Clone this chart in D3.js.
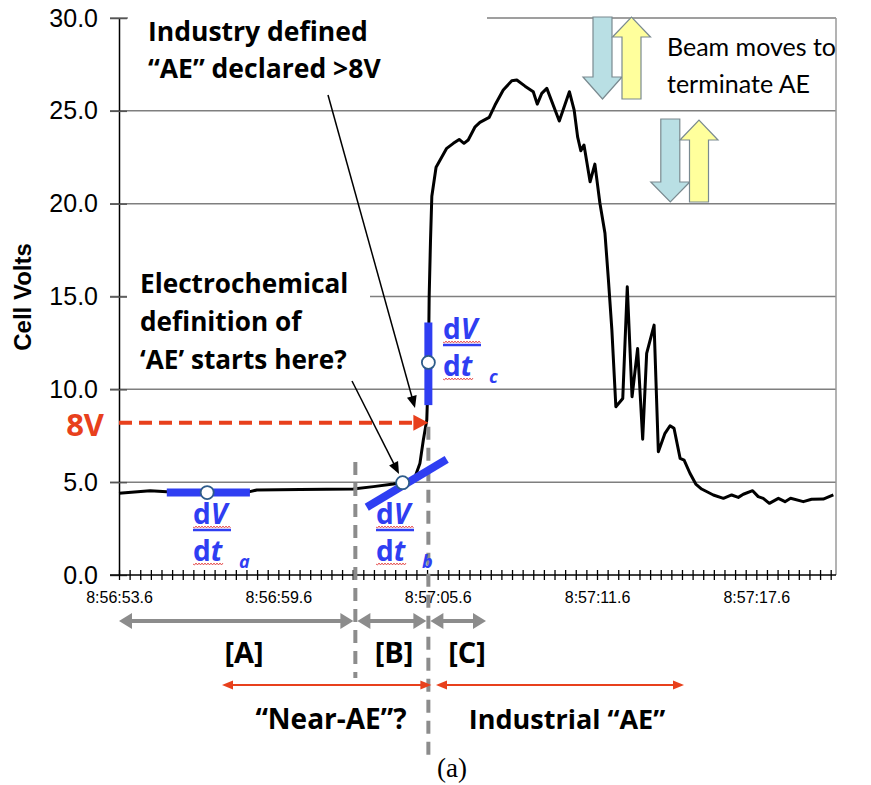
<!DOCTYPE html>
<html>
<head>
<meta charset="utf-8">
<script src="https://cdn.jsdelivr.net/npm/d3@7"></script>
<style>
  body { margin: 0; background: #fff; }
  svg { display: block; }
  .ann { font-family: "Open Sans", Lato, sans-serif; font-weight: 700; fill: #000; }
  .tick text { font-family: "Liberation Sans", Arial, sans-serif; }
</style>
</head>
<body>
<svg width="871" height="785"></svg>
<script>
(function() {
  'use strict';

// seconds after 8:56:53.6
var times = [0, 1.17, 1.80, 3.05, 4.93, 5.19, 6.82, 8.82, 9.58, 10.33, 10.83, 11.15, 11.33, 11.46, 11.59,
  11.65, 11.68, 11.73, 11.78, 11.94, 12.34, 12.59, 12.81, 12.99, 13.15, 13.41, 13.59, 13.94, 14.16,
  14.47, 14.79, 14.98, 15.29, 15.60, 15.75, 15.92, 16.11, 16.58, 16.96, 17.14, 17.27, 17.39, 17.51,
  17.74, 17.92, 18.11, 18.30, 18.43, 18.56, 18.71, 18.97, 19.14, 19.32, 19.53, 19.72, 19.87, 20.15,
  20.31, 20.56, 20.75, 20.90, 21.13, 21.28, 21.50, 21.72, 21.94, 22.38, 22.76, 23.07, 23.32, 23.51,
  23.86, 24.07, 24.26, 24.49, 24.83, 25.08, 25.29, 25.77, 26.08, 26.52, 26.90];
var volts = [4.40, 4.54, 4.49, 4.50, 4.49, 4.58, 4.60, 4.63, 4.76, 4.90, 5.02, 5.29, 6.00, 7.27, 8.35,
  11.0, 15.0, 18.0, 20.4, 21.96, 22.98, 23.25, 23.46, 23.25, 23.43, 24.14, 24.38, 24.65, 25.31,
  26.12, 26.62, 26.66, 26.33, 26.03, 25.36, 25.94, 26.21, 24.45, 26.03, 25.04, 23.6, 22.85, 23.16,
  21.18, 22.13, 20.02, 18.4, 15.9, 13.2, 9.06, 9.51, 15.52, 9.6, 12.2, 7.31, 11.94, 13.46,
  6.64, 7.63, 8.04, 7.9, 6.28, 6.19, 5.48, 4.9, 4.63, 4.31, 4.13, 4.31, 4.18, 4.35,
  4.54, 4.22, 4.13, 3.86, 4.13, 3.95, 4.13, 3.95, 4.08, 4.09, 4.31];

var yTicks = [0, 5, 10, 15, 20, 25, 30];
var xLabelEvery = 6;      // seconds between time labels
var xTickStep = 0.4;      // seconds between tick marks
var baseClock = 8 * 3600 + 56 * 60 + 53.6;

var tB = 8.9, tC = 11.65, aeLevel = 8.2;

var svg = d3.select("svg");
var x = d3.scaleLinear().domain([0, 27]).range([119, 836]);
var y = d3.scaleLinear().domain([0, 30]).range([575, 18]);

var red = "#e8401c", blue = "#2f3ef2", gray = "#8c8c8c";

function clock(t) {
  var s = Math.round((baseClock + t) * 10) / 10;
  var h = Math.floor(s / 3600), m = Math.floor((s % 3600) / 60), sec = (s % 60).toFixed(1);
  return h + ":" + (m < 10 ? "0" : "") + m + ":" + (sec < 10 ? "0" : "") + sec;
}

// gridlines
svg.append("g").selectAll("line")
  .data(yTicks.filter(function(d) { return d > 0; }))
  .enter().append("line")
  .attr("x1", 110).attr("x2", x(27))
  .attr("y1", function(d) { return y(d); }).attr("y2", function(d) { return y(d); })
  .attr("stroke", "#7f7f7f").attr("stroke-width", 1.5);
svg.append("line").attr("x1", x(27)).attr("x2", x(27)).attr("y1", y(30)).attr("y2", y(0))
  .attr("stroke", "#9a9a9a").attr("stroke-width", 1.5);

// text boxes hide grid behind them
svg.append("rect").attr("x", 128).attr("y", 0).attr("width", 359).attr("height", 92).attr("fill", "#fff");
svg.append("rect").attr("x", 127).attr("y", 262).attr("width", 243).attr("height", 116).attr("fill", "#fff");

// axes
var yAxis = svg.append("g").attr("transform", "translate(" + x(0) + ",0)")
  .call(d3.axisLeft(y).tickValues(yTicks).tickFormat(d3.format(".1f")).tickSizeOuter(0));
yAxis.select(".domain").attr("stroke", "#000").attr("stroke-width", 1.5);
yAxis.selectAll(".tick line").attr("x1", -9).attr("x2", 8).attr("stroke", "#555").attr("stroke-width", 1.5);
yAxis.selectAll(".tick text").attr("x", -21).attr("font-size", 25).attr("fill", "#000");

var xTickVals = d3.range(0, 68).map(function(i) { return Math.round(i * xTickStep * 10) / 10; });
var xAxis = svg.append("g").attr("transform", "translate(0," + y(0) + ")")
  .call(d3.axisBottom(x).tickValues(xTickVals).tickSizeOuter(0)
    .tickFormat(function(d) { return (Math.round(d * 10) % (xLabelEvery * 10) === 0) ? clock(d) : ""; }));
xAxis.select(".domain").attr("stroke", "#000").attr("stroke-width", 1.5).attr("d", "M110,0H" + x(27));
xAxis.selectAll(".tick line").attr("y1", -5).attr("y2", 5).attr("stroke", "#000").attr("stroke-width", 1.3);
xAxis.selectAll(".tick text").attr("y", 17).attr("font-size", 16).attr("fill", "#000");

svg.append("text").attr("transform", "translate(31,297) rotate(-90)")
  .attr("text-anchor", "middle").attr("font-family", "Liberation Sans, Arial, sans-serif")
  .attr("font-weight", 700).attr("font-size", 24).text("Cell Volts");

// voltage trace
var pts = times.map(function(t, i) { return [t, volts[i]]; });
svg.append("path").datum(pts)
  .attr("d", d3.line().x(function(d) { return x(d[0]); }).y(function(d) { return y(d[1]); }))
  .attr("fill", "none").attr("stroke", "#000").attr("stroke-width", 3).attr("stroke-linejoin", "round");

// helpers
function arrow(g, x1, y1, x2, y2, o) {
  var ang = Math.atan2(y2 - y1, x2 - x1), c = Math.cos(ang), s = Math.sin(ang);
  var sx1 = x1, sy1 = y1, sx2 = x2, sy2 = y2;
  function head(tx, ty, dir) {
    var bx = tx - dir * c * o.hl, by = ty - dir * s * o.hl;
    g.append("path").attr("d", "M" + tx + "," + ty + "L" + (bx - s * o.hw) + "," + (by + c * o.hw) +
      "L" + (bx + s * o.hw) + "," + (by - c * o.hw) + "Z").attr("fill", o.color);
  }
  if (o.end) { head(x2, y2, 1); sx2 = x2 - c * o.hl * 0.8; sy2 = y2 - s * o.hl * 0.8; }
  if (o.start) { head(x1, y1, -1); sx1 = x1 + c * o.hl * 0.8; sy1 = y1 + s * o.hl * 0.8; }
  g.append("line").attr("x1", sx1).attr("y1", sy1).attr("x2", sx2).attr("y2", sy2)
    .attr("stroke", o.color).attr("stroke-width", o.w).attr("stroke-dasharray", o.dash || null);
}
function blockArrow(cx, y0, y1, y2, sw, hw, fill) {
  var p = [[cx - sw / 2, y0], [cx + sw / 2, y0], [cx + sw / 2, y1], [cx + hw / 2, y1], [cx, y2],
    [cx - hw / 2, y1], [cx - sw / 2, y1]];
  svg.append("path").attr("d", "M" + p.join("L") + "Z").attr("fill", fill)
    .attr("stroke", "#7a8a90").attr("stroke-width", 1.2);
}
function squiggle(x0, x1, yy) {
  var d = "M" + x0 + "," + yy;
  for (var xx = x0 + 1.5, k = 0; xx <= x1; xx += 1.5, k++) d += "L" + xx + "," + (yy + (k % 2 ? -1 : 1));
  svg.append("path").attr("d", d).attr("fill", "none").attr("stroke", "#e03030").attr("stroke-width", 0.8);
}
function dvdt(lx, yTop, yBot, sub) {
  var g = svg.append("g").attr("fill", blue).attr("font-family", "Open Sans, sans-serif")
    .attr("font-weight", 700).attr("font-size", 28);
  var t1 = g.append("text").attr("x", lx).attr("y", yTop);
  t1.append("tspan").text("d");
  t1.append("tspan").attr("font-style", "italic").text("V");
  var t2 = g.append("text").attr("x", lx).attr("y", yBot);
  t2.append("tspan").text("d");
  t2.append("tspan").attr("font-style", "italic").text("t");
  g.append("text").attr("x", lx + 46).attr("y", yBot + 7).attr("font-size", 18)
    .attr("font-style", "italic").text(sub);
  squiggle(lx, lx + 38, yTop + 3);
  svg.append("line").attr("x1", lx).attr("x2", lx + 38).attr("y1", yTop + 6).attr("y2", yTop + 6)
    .attr("stroke", blue).attr("stroke-width", 2.5);
  squiggle(lx, lx + 30, yBot + 3);
}
function slopeMark(ta, va, tb, vb, tc, vc) {
  svg.append("line").attr("x1", x(ta)).attr("y1", y(va)).attr("x2", x(tb)).attr("y2", y(vb))
    .attr("stroke", blue).attr("stroke-width", 8);
  svg.append("circle").attr("cx", x(tc)).attr("cy", y(vc)).attr("r", 6.5)
    .attr("fill", "#fff").attr("stroke", "#2e5c8a").attr("stroke-width", 1.8);
}

// dashed region markers
var ann = svg.append("g");
ann.append("line").attr("x1", x(tB)).attr("x2", x(tB)).attr("y1", 462).attr("y2", 678)
  .attr("stroke", gray).attr("stroke-width", 4).attr("stroke-dasharray", "13,8");
ann.append("line").attr("x1", x(tC)).attr("x2", x(tC)).attr("y1", y(aeLevel) + 4).attr("y2", 760)
  .attr("stroke", gray).attr("stroke-width", 4).attr("stroke-dasharray", "13,8");

// 8V threshold
arrow(ann, x(0), y(aeLevel), x(tC), y(aeLevel), { color: red, w: 4, hl: 15, hw: 8, end: true, dash: "13,7" });
svg.append("text").attr("x", 104).attr("y", y(aeLevel) + 13).attr("text-anchor", "end")
  .attr("class", "ann").style("fill", red).attr("font-size", 31).text("8V");

// slope marks
slopeMark(1.80, 4.44, 4.93, 4.44, 3.32, 4.44);
dvdt(193, 524, 561, "a");
slopeMark(9.33, 3.65, 12.34, 6.23, 10.68, 4.97);
dvdt(376, 524, 561, "b");
slopeMark(11.65, 13.6, 11.65, 9.15, 11.65, 11.45);
dvdt(443, 339, 376, "c");

// callouts
arrow(ann, 328, 95, 415, 408, { color: "#000", w: 1.5, hl: 12, hw: 5, end: true });
arrow(ann, 352, 381, 399, 474, { color: "#000", w: 1.5, hl: 12, hw: 5, end: true });

function lines(arr, lx, y0, step, size) {
  arr.forEach(function(s, i) {
    svg.append("text").attr("class", "ann").attr("x", lx).attr("y", y0 + i * step)
      .attr("font-size", size).text(s);
  });
}
lines(["Industry defined", "\u201cAE\u201d declared >8V"], 148, 41, 37, 26.5);
lines(["Electrochemical", "definition of", "\u2018AE\u2019 starts here?"], 140, 293, 38, 26.2);

// beam moves
blockArrow(602.5, 17, 77, 99, 19, 39, "#b9dfe4");
blockArrow(631.5, 99, 37, 17, 19, 38, "#ffff9c");
blockArrow(670.3, 119, 182, 202, 19, 39, "#b9dfe4");
blockArrow(699, 202, 140, 120, 19, 38, "#ffff9c");
svg.append("g").selectAll("text").data(["Beam moves to", "terminate AE"]).enter().append("text")
  .attr("x", 667).attr("y", function(d, i) { return 56 + i * 37; })
  .attr("font-family", "Lato, sans-serif").attr("font-size", 25).text(function(d) { return d; });

// region arrows
var gy = 621;
arrow(ann, x(0), gy, x(tB) - 2, gy, { color: gray, w: 4, hl: 13, hw: 8, start: true, end: true });
arrow(ann, x(tB) + 2, gy, x(tC) - 2, gy, { color: gray, w: 4, hl: 13, hw: 8, start: true, end: true });
arrow(ann, x(tC) + 2, gy, 486, gy, { color: gray, w: 4, hl: 13, hw: 8, start: true, end: true });
[["[A]", 244], ["[B]", 394], ["[C]", 467]].forEach(function(d) {
  svg.append("text").attr("class", "ann").attr("x", d[1]).attr("y", 663)
    .attr("text-anchor", "middle").attr("font-size", 29).text(d[0]);
});

var ry = 685;
arrow(ann, 222, ry, x(tC) + 3, ry, { color: red, w: 2, hl: 11, hw: 4.5, start: true, end: true });
arrow(ann, 436, ry, 684, ry, { color: red, w: 2, hl: 11, hw: 4.5, start: true, end: true });
[["\u201cNear-AE\u201d?", 331, 28], ["Industrial \u201cAE\u201d", 567, 27]].forEach(function(d) {
  svg.append("text").attr("class", "ann").attr("x", d[1]).attr("y", 729)
    .attr("text-anchor", "middle").attr("font-size", d[2]).text(d[0]);
});

svg.append("text").attr("x", 452).attr("y", 777).attr("text-anchor", "middle")
  .attr("font-family", "Liberation Serif, serif").attr("font-size", 27).text("(a)");
})();
</script>
</body>
</html>
